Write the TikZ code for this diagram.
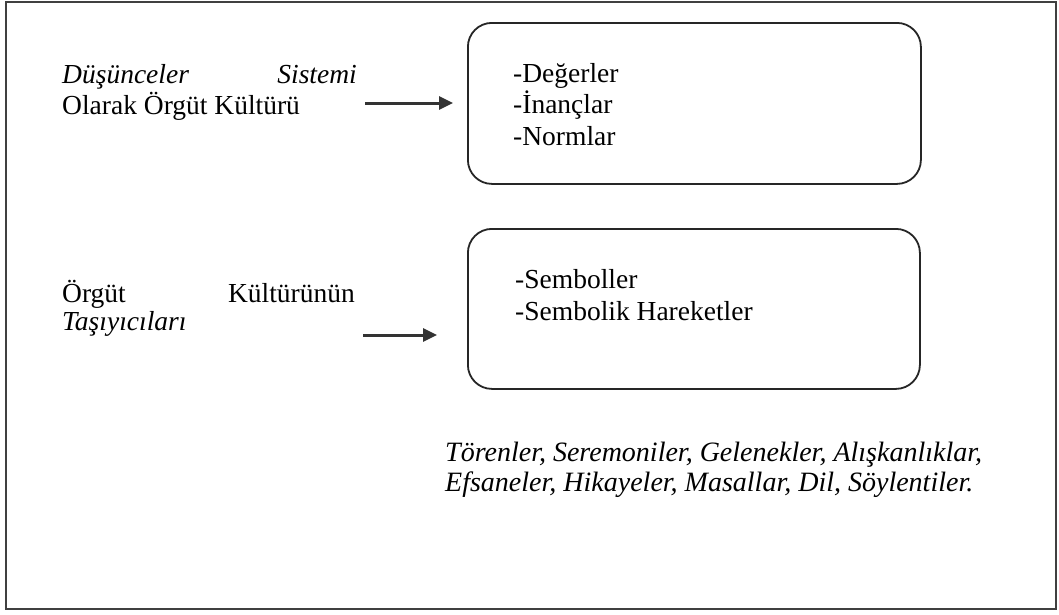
\documentclass[tikz,border=0pt]{standalone}
\usepackage{fontspec}
\setmainfont{Liberation Serif}
\usetikzlibrary{arrows.meta}
\begin{document}
\begin{tikzpicture}[x=1pt,y=-1pt,
  txt/.style={anchor=base west, inner sep=0pt, font=\fontsize{27.5}{32}\selectfont},
  itxt/.style={txt, font=\fontsize{27.5}{32}\selectfont\itshape},
  notetxt/.style={txt, font=\fontsize{28}{32}\selectfont\itshape},
  roundbox/.style={draw=black!85, line width=1.8pt, rounded corners=24pt, anchor=north west},
  link/.style={draw=black!80, line width=3pt, -{Triangle[length=14pt,width=13pt]}}]
\useasboundingbox (0,0) rectangle (1059,614);
% outer frame
\draw[black!75, line width=1.2pt] (6,2) rectangle (1056,609);

% upper group: system of ideas
\node[itxt] (d1) at (62,83) {Düşünceler};
\node[itxt, anchor=base east] (d2) at (357,83) {Sistemi};
\node[txt] (d3) at (62,114) {Olarak Örgüt Kültürü};
\node[roundbox, minimum width=453pt, minimum height=161pt] (b1) at (467,22) {};
\node[txt] (v1) at (513,82) {-Değerler};
\node[txt] (v2) at (513,113) {-İnançlar};
\node[txt] (v3) at (513,145) {-Normlar};
\coordinate (a1) at (365,103);
\draw[link, shorten >=14pt] (a1) -- (a1 -| b1.west);

% lower group: carriers of culture
\node[txt] (c1) at (62,302) {Örgüt};
\node[txt, anchor=base east] (c2) at (355,302) {Kültürünün};
\node[itxt] (c3) at (62,330) {Taşıyıcıları};
\node[roundbox, minimum width=452pt, minimum height=160pt] (b2) at (467,228) {};
\node[txt] (s1) at (515,288) {-Semboller};
\node[txt] (s2) at (515,320) {-Sembolik Hareketler};
\coordinate (a2) at (363,335);
\draw[link, shorten >=30pt] (a2) -- (a2 -| b2.west);

% examples below
\node[notetxt] (e1) at (445,461) {Törenler, Seremoniler, Gelenekler, Alışkanlıklar,};
\node[notetxt] (e2) at (445,491) {Efsaneler, Hikayeler, Masallar, Dil, Söylentiler.};
\end{tikzpicture}
\end{document}
